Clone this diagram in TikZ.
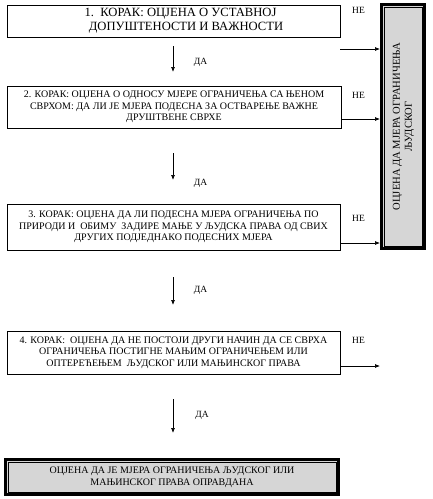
\documentclass[tikz,border=0pt]{standalone}
\usepackage{fontspec}
\setmainfont{Liberation Serif}
\usetikzlibrary{arrows.meta}
\begin{document}
\begin{tikzpicture}[x=1pt,y=-1pt,
  stepbox/.style={draw, line width=0.8pt, inner sep=0pt, align=center,
    font=\fontsize{10}{11.5}\selectfont},
  resbox/.style={draw, line width=3pt, fill=black!16, inner sep=0pt, align=center,
    font=\fontsize{10}{12}\selectfont},
  arr/.style={-{Latex[length=5pt,width=4pt]}, line width=0.7pt},
  lbl/.style={font=\fontsize{9.5}{10}\selectfont, inner sep=0pt}]
\useasboundingbox (0,0) rectangle (432,499);

% step boxes
\node[stepbox, minimum width=333pt, minimum height=32pt,
  font=\fontsize{12.6}{14}\selectfont] (s1) at (173.5,21)
  {\hspace*{14pt}1.\ \ КОРАК: ОЦЈЕНА О УСТАВНОЈ\\\hspace*{25pt}ДОПУШТЕНОСТИ И ВАЖНОСТИ};
\node[stepbox, minimum width=334pt, minimum height=42pt] (s2) at (174,107)
  {2. КОРАК: ОЦЈЕНА О ОДНОСУ МЈЕРЕ ОГРАНИЧЕЊА СА ЊЕНОМ\\СВРХОМ: ДА ЛИ ЈЕ МЈЕРА ПОДЕСНА ЗА ОСТВАРЕЊЕ ВАЖНЕ\\ДРУШТВЕНЕ СВРХЕ};
\node[stepbox, minimum width=333pt, minimum height=46pt] (s3) at (173.5,227)
  {3. КОРАК: ОЦЈЕНА ДА ЛИ ПОДЕСНА МЈЕРА ОГРАНИЧЕЊА ПО\\ПРИРОДИ И\ \ ОБИМУ\ \ ЗАДИРЕ МАЊЕ У ЉУДСКА ПРАВА ОД СВИХ\\ДРУГИХ ПОДЈЕДНАКО ПОДЕСНИХ МЈЕРА};
\node[stepbox, minimum width=333pt, minimum height=43pt] (s4) at (173.5,352.5)
  {4. КОРАК:\ \ ОЦЈЕНА ДА НЕ ПОСТОЈИ ДРУГИ НАЧИН ДА СЕ СВРХА\\ОГРАНИЧЕЊА ПОСТИГНЕ МАЊИМ ОГРАНИЧЕЊЕМ ИЛИ\\ОПТЕРЕЋЕЊЕМ\ \ ЉУДСКОГ ИЛИ МАЊИНСКОГ ПРАВА};

% result boxes
\node[resbox, minimum width=333pt, minimum height=35pt] (ok) at (172,477)
  {ОЦЈЕНА ДА ЈЕ МЈЕРА ОГРАНИЧЕЊА ЉУДСКОГ ИЛИ\\МАЊИНСКОГ ПРАВА ОПРАВДАНА};
\draw[line width=0.7pt] ([xshift=4pt,yshift=-4pt]ok.north west) rectangle ([xshift=-4pt,yshift=4pt]ok.south east);

\node[resbox, minimum width=43pt, minimum height=244pt] (no) at (403,126.5) {};
\draw[line width=0.7pt] ([xshift=4pt,yshift=-4pt]no.north west) rectangle ([xshift=-4pt,yshift=4pt]no.south east);
\node[rotate=90, align=center, inner sep=0pt, font=\fontsize{10.6}{12}\selectfont] (notext) at (403.5,126.5)
  {ОЦЈЕНА ДА МЈЕРА ОГРАНИЧЕЊА\\ЉУДСКОГ};

% "NE" connectors
\coordinate (n1) at (340,49);
\coordinate (n4) at (380,366);
\draw[arr] (n1) -- (n1 -| no.west);
\draw[arr] (s2.east |- 0,119) -- (no.west |- 0,119);
\draw[arr] (s3.east |- 0,243) -- (no.west |- 0,243);
\draw[arr] (s4.east |- n4) -- (n4);

\node[lbl] (ne1) at (358.5,10) {НЕ};
\node[lbl] (ne2) at (358.5,95) {НЕ};
\node[lbl] (ne3) at (358.5,218) {НЕ};
\node[lbl] (ne4) at (358.5,340) {НЕ};

% "DA" connectors
\coordinate (d1a) at (173,46);  \coordinate (d1b) at (173,72);
\coordinate (d2a) at (173,153); \coordinate (d2b) at (173,180);
\coordinate (d3a) at (173,277); \coordinate (d3b) at (173,305);
\coordinate (d4a) at (173,399); \coordinate (d4b) at (173,433);
\draw[arr] (d1a) -- (d1b);
\draw[arr] (d2a) -- (d2b);
\draw[arr] (d3a) -- (d3b);
\draw[arr] (d4a) -- (d4b);

\node[lbl] (da1) at (200.5,62) {ДА};
\node[lbl] (da2) at (200.5,183) {ДА};
\node[lbl] (da3) at (200.5,290) {ДА};
\node[lbl] (da4) at (202,415) {ДА};
\end{tikzpicture}
\end{document}
